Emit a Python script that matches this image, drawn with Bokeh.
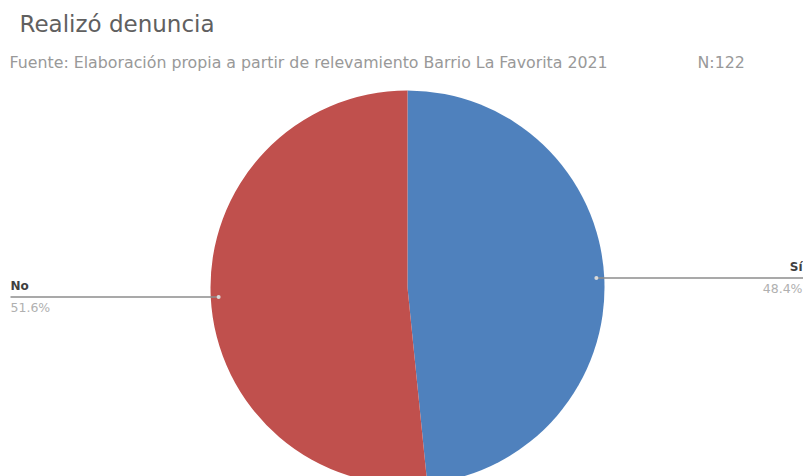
import numpy as np
from bokeh.plotting import figure
from bokeh.models import Range1d
from bokeh.core.properties import value
from bokeh.embed import file_html
from bokeh.resources import INLINE

categories = ["Sí", "No"]
percentages = [48.4, 51.6]
colors = ["#4F81BD", "#C0504D"]
title_text = "Realizó denuncia"
source_text = "Fuente:  Elaboración propia a partir de relevamiento Barrio La Favorita 2021"
n_text = "N:122"

W, H = 803, 476
FONT = value("DejaVu Sans")

p = figure(width=W, height=H, x_range=Range1d(0, W), y_range=Range1d(0, H),
           output_backend="svg", toolbar_location=None, min_border=0)
p.axis.visible = False
p.grid.visible = False
p.outline_line_color = None
p.background_fill_color = "white"
p.border_fill_color = "white"

def Y(ys):
    return H - ys

cx, cy, r = 407, Y(287), 197
frac = np.array(percentages) / sum(percentages)
ends = np.cumsum(frac)
starts = ends - frac
start_angle = np.pi / 2 - 2 * np.pi * starts
end_angle = np.pi / 2 - 2 * np.pi * ends
p.wedge(x=cx, y=cy, radius=r, start_angle=start_angle, end_angle=end_angle,
        direction="clock", fill_color=colors, line_color=None)

mid = np.pi / 2 - 2 * np.pi * (starts + frac / 2)
dx = cx + 0.96 * r * np.cos(mid)
dy = cy + 0.96 * r * np.sin(mid)
for i, cat in enumerate(categories):
    right = np.cos(mid[i]) > 0
    xe = W if right else 10
    p.line(x=[dx[i], xe], y=[dy[i], dy[i]], line_color="#8c8c8c", line_width=1.3)
    lx = W - 1 if right else 10
    align = "right" if right else "left"
    p.text(x=[lx], y=[dy[i] + 4], text=[cat], text_font=FONT, text_font_size="12px",
           text_font_style="bold", text_color="#404040", text_align=align,
           text_baseline="bottom")
    p.text(x=[lx], y=[dy[i] - 3], text=[f"{percentages[i]:.1f}%"], text_font=FONT,
           text_font_size="12.5px", text_color="#b0b0b0", text_align=align,
           text_baseline="top")
p.scatter(x=dx, y=dy, size=4, fill_color="#d9d9d9", line_color=None)

p.text(x=[19], y=[Y(23)], text=[title_text], text_font=FONT, text_font_size="23px",
       text_color="#606060", text_baseline="middle")
p.text(x=[9], y=[Y(62)], text=[source_text], text_font=FONT, text_font_size="15.8px",
       text_color="#999999", text_baseline="middle")
p.text(x=[697], y=[Y(62)], text=[n_text], text_font=FONT, text_font_size="15.8px",
       text_color="#999999", text_baseline="middle")

open("out.html", "w").write(file_html(p, INLINE))
